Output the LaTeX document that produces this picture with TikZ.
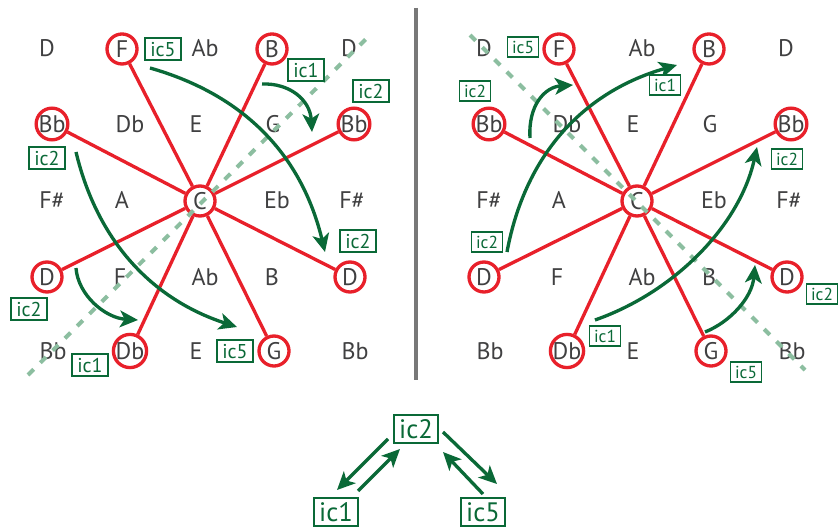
\documentclass[tikz,border=0pt]{standalone}
\usepackage{fontspec}
\setmainfont{PT Sans}
\usetikzlibrary{arrows.meta}
\definecolor{nred}{RGB}{232,32,42}
\definecolor{ngreen}{RGB}{10,105,55}
\definecolor{ntext}{RGB}{64,64,65}
\definecolor{ndash}{RGB}{140,190,160}
\definecolor{ngray}{RGB}{120,120,120}
\tikzset{
 note/.style={text=ntext, font=\fontsize{18}{18}\selectfont, inner sep=0pt, text height=12.6pt, text depth=0pt},
 cnote/.style={note, circle, draw=nred, line width=2.5pt, minimum size=22.5pt},
 redline/.style={draw=nred, line width=2.5pt},
 garrow/.style={draw=ngreen, line width=2.5pt, -{Stealth[length=13.5pt,width=12.5pt,inset=3.5pt]}},
 iclab/.style={draw=ngreen, line width=1.1pt, text=ngreen, fill=white, font=\fontsize{15}{15}\selectfont, inner sep=0pt, text height=10.8pt, text depth=0pt, minimum width=27pt, minimum height=16.5pt},
 icsmall/.style={iclab, font=\fontsize{13}{13}\selectfont, text height=9.4pt, minimum width=23pt, minimum height=15pt},
 icbig/.style={iclab, line width=1.5pt, font=\fontsize{20}{20}\selectfont, text height=14.4pt, minimum width=33pt, minimum height=21pt},
 dashline/.style={draw=ndash, line width=3pt, dash pattern=on 6pt off 7pt},
}
\newcommand{\notegrid}[1]{%
 \node[note]  (#1a1) at (47,48)  {D};
 \node[cnote] (#1F)  at (122,49) {F};
 \node[note]  (#1a3) at (205,48) {Ab};
 \node[cnote] (#1B)  at (272,49) {B};
 \node[note]  (#1a5) at (349,48) {D};
 \node[cnote] (#1Bbl) at (52,124) {Bb};
 \node[note]  (#1b2) at (130,124) {Db};
 \node[note]  (#1b3) at (196,124) {E};
 \node[note]  (#1b4) at (273,124) {G};
 \node[cnote] (#1Bbr) at (354,124) {Bb};
 \node[note]  (#1c1) at (52,200) {F\#};
 \node[note]  (#1c2) at (122,200) {A};
 \node[cnote] (#1C)  at (200,201) {C};
 \node[note]  (#1c4) at (277,200) {Eb};
 \node[note]  (#1c5) at (352,200) {F\#};
 \node[cnote] (#1Dl) at (47,277) {D};
 \node[note]  (#1d2) at (120,277) {F};
 \node[note]  (#1d3) at (205,277) {Ab};
 \node[note]  (#1d4) at (272,277) {B};
 \node[cnote] (#1Dr) at (350,277) {D};
 \node[note]  (#1e1) at (53,351) {Bb};
 \node[cnote] (#1Db) at (130,351) {Db};
 \node[note]  (#1e3) at (196,351) {E};
 \node[cnote] (#1G)  at (274,351) {G};
 \node[note]  (#1e5) at (355,351) {Bb};
 \foreach \t in {F,B,Bbl,Bbr,Dl,Dr,Db,G} {\draw[redline] (#1C) -- (#1\t);}
}
\begin{document}
\begin{tikzpicture}[x=0.75pt,y=-0.75pt]
\useasboundingbox (0,0) rectangle (839,531);
% divider
\coordinate (dv1) at (416,8);
\coordinate (dv2) at (416,380);
\draw[ngray, line width=2.3pt] (dv1) -- (dv2);
% grids
\notegrid{L}
\begin{scope}[xshift=327.75pt]
\notegrid{R}
\end{scope}
% dashed axes
\coordinate (ld1) at (28,375);
\coordinate (ld2) at (372,33);
\coordinate (rd1) at (470,35);
\coordinate (rd2) at (805,370);
\draw[dashline] (ld1) -- (ld2);
\draw[dashline] (rd1) -- (rd2);
% left arrows
\coordinate (la1s) at (150,68);  \coordinate (la1e) at (325,252);
\coordinate (la2s) at (262,84);  \coordinate (la2e) at (312,132);
\coordinate (la3s) at (76,152);  \coordinate (la3e) at (237,327);
\coordinate (la4s) at (76,268);  \coordinate (la4e) at (138,320);
\draw[garrow] (la1s) .. controls (245,95) and (302,156) .. (la1e);
\draw[garrow] (la2s) .. controls (290,83) and (310,100) .. (la2e);
\draw[garrow] (la3s) .. controls (97,240) and (151,299) .. (la3e);
\draw[garrow] (la4s) .. controls (78,295) and (105,318) .. (la4e);
% right arrows
\coordinate (ra1s) at (530,138); \coordinate (ra1e) at (573,85);
\coordinate (ra2s) at (507,252); \coordinate (ra2e) at (677,65);
\coordinate (ra3s) at (595,320); \coordinate (ra3e) at (757,147);
\coordinate (ra4s) at (705,332); \coordinate (ra4e) at (755,265);
\draw[garrow] (ra1s) .. controls (528,105) and (545,87) .. (ra1e);
\draw[garrow] (ra2s) .. controls (525,155) and (583,92) .. (ra2e);
\draw[garrow] (ra3s) .. controls (675,292) and (740,225) .. (ra3e);
\draw[garrow] (ra4s) .. controls (730,322) and (752,298) .. (ra4e);
% left labels
\node[iclab] (l1) at (163,49) {ic5};
\node[iclab] (l2) at (306,70) {ic1};
\node[iclab] (l3) at (371,91) {ic2};
\node[iclab] (l4) at (47,158) {ic2};
\node[iclab] (l5) at (358,241) {ic2};
\node[iclab] (l6) at (29,309) {ic2};
\node[iclab] (l7) at (90,365) {ic1};
\node[iclab] (l8) at (235,351) {ic5};
% right labels
\node[icsmall] (r1) at (523,47) {ic5};
\node[icsmall] (r2) at (665,85) {ic1};
\node[icsmall] (r3) at (475,91) {ic2};
\node[icsmall] (r4) at (787,159) {ic2};
\node[icsmall] (r5) at (487,242) {ic2};
\node[icsmall] (r6) at (822,294) {ic2};
\node[icsmall] (r7) at (605,336) {ic1};
\node[icsmall] (r8) at (746,372) {ic5};
% bottom triangle
\node[icbig] (b2) at (416,429) {ic2};
\node[icbig] (b1) at (336,512) {ic1};
\node[icbig] (b5) at (483,512) {ic5};
\coordinate (t1s) at (388,439); \coordinate (t1e) at (337,490);
\coordinate (t2s) at (358,491); \coordinate (t2e) at (400,449);
\coordinate (t3s) at (443,432); \coordinate (t3e) at (497,484);
\coordinate (t4s) at (483,494); \coordinate (t4e) at (443,452);
\draw[garrow] (t1s) -- (t1e);
\draw[garrow] (t2s) -- (t2e);
\draw[garrow] (t3s) -- (t3e);
\draw[garrow] (t4s) -- (t4e);
\end{tikzpicture}
\end{document}
